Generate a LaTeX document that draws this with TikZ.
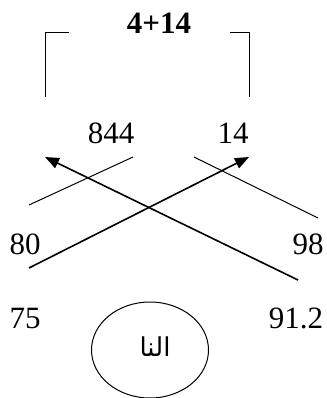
\documentclass[tikz,border=0pt]{standalone}
\usepackage{fontspec}
\setmainfont{Liberation Serif}
\newfontfamily\arabicfont[Script=Arabic]{DejaVu Sans}
\TeXXeTstate=1
\usetikzlibrary{arrows.meta,shapes.geometric}
\tikzset{
  num/.style={font=\fontsize{31}{34}\selectfont, inner sep=0pt},
  thinline/.style={line width=1pt},
  thickarrow/.style={line width=1.6pt, -{Triangle[length=14pt,width=11pt]}},
}

\begin{document}
\begin{tikzpicture}[x=1pt,y=-1pt]
        \useasboundingbox (0,0) rectangle (326,398);
        % title and brackets
        \node[num, font=\fontsize{31}{34}\selectfont\bfseries] (title) at (159,23) {4+14};
        \draw[thinline] (45,97) -- (45,33) -- (69,33);
        \draw[thinline] (230,33) -- (249,33) -- (249,97);
        % numbers
        \node[num] (n844) at (111,133) {844};
        \node[num] (n14) at (233,133) {14};
        \node[num] (n80) at (25,244) {80};
        \node[num] (n98) at (308,244) {98};
        \node[num] (n75) at (25,318) {75};
        \node[num] (n912) at (296,318) {91.2};
        % cross lines
        \coordinate (a1) at (133,157);
        \coordinate (a2) at (29,205);
        \coordinate (b1) at (194,157);
        \coordinate (b2) at (318,218);
        \draw[thinline] (a1) -- (a2);
        \draw[thinline] (b1) -- (b2);
        \coordinate (c1) at (298,280);
        \coordinate (c2) at (45,157);
        \coordinate (d1) at (29,268);
        \coordinate (d2) at (249,157);
        \draw[thickarrow] (c1) -- (c2);
        \draw[thickarrow] (d1) -- (d2);
        % circle
        \node[draw, line width=1pt, ellipse, minimum width=117pt, minimum height=96pt] (oval) at (150,350) {};
        \node[font=\arabicfont\fontsize{26}{30}\selectfont] (word) at (155,347) {\beginR النا\endR};
      \end{tikzpicture}
\end{document}
